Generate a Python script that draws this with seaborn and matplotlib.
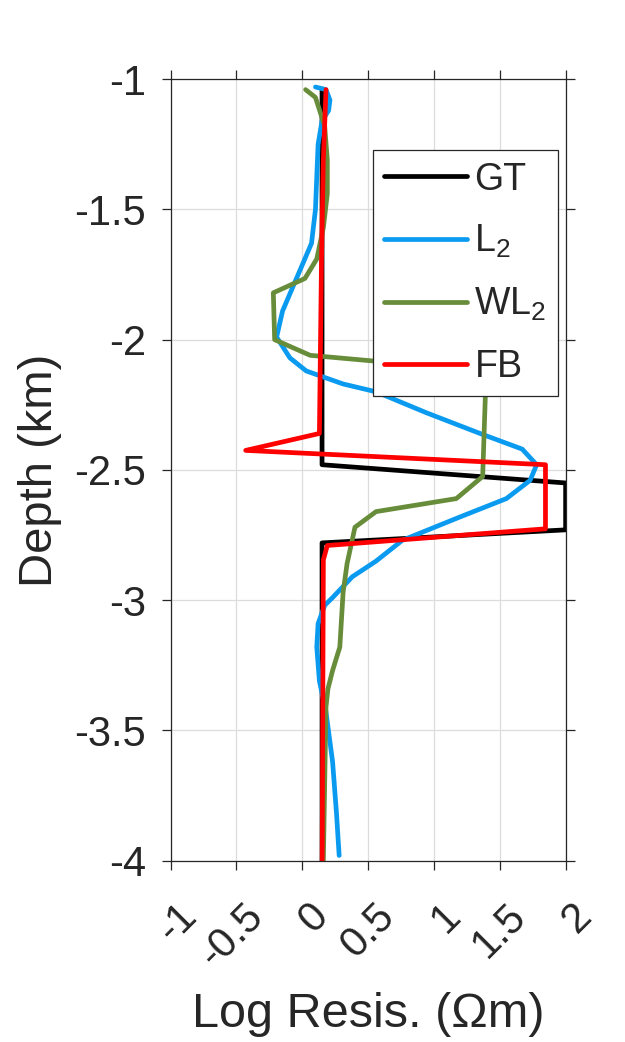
import numpy as np
import matplotlib
matplotlib.use("Agg")
import matplotlib.pyplot as plt
import matplotlib.transforms as mtransforms
import seaborn as sns

# resistivity profiles (log10 ohm-m) vs depth (km)
gt_depth = [-1.04, -2.48, -2.55, -2.73, -2.78, -4.0]
gt_val = [0.15, 0.15, 2.0, 2.0, 0.15, 0.15]

l2_depth = [-1.03, -1.04, -1.08, -1.12, -1.16, -1.25, -1.50, -1.63, -1.76, -1.89,
            -1.99, -2.07, -2.12, -2.17, -2.20, -2.28, -2.36, -2.42, -2.48, -2.54,
            -2.61, -2.68, -2.77, -2.85, -2.91, -2.99, -3.02, -3.09, -3.18, -3.31,
            -3.43, -3.62, -3.82, -3.98]
l2_val = [0.10, 0.18, 0.21, 0.20, 0.15, 0.12, 0.10, 0.07, -0.04, -0.15,
          -0.195, -0.094, 0.03, 0.31, 0.56, 0.94, 1.35, 1.67, 1.78, 1.73,
          1.55, 1.20, 0.76, 0.56, 0.38, 0.23, 0.17, 0.12, 0.11, 0.13,
          0.18, 0.23, 0.26, 0.28]

wl2_depth = [-1.04, -1.07, -1.18, -1.31, -1.44, -1.57, -1.69, -1.765, -1.82, -2.0,
             -2.06, -2.12, -2.22, -2.525, -2.61, -2.66, -2.72, -2.86, -2.97, -3.18,
             -3.27, -3.34, -3.41, -4.0]
wl2_val = [0.025, 0.10, 0.17, 0.19, 0.19, 0.16, 0.11, 0.02, -0.22, -0.21,
           0.06, 1.38, 1.39, 1.37, 1.17, 0.56, 0.40, 0.34, 0.31, 0.285,
           0.23, 0.195, 0.18, 0.16]

fb_depth = [-1.04, -1.31, -1.69, -2.36, -2.425, -2.48, -2.726, -2.79, -2.845, -4.0]
fb_val = [0.18, 0.16, 0.146, 0.13, -0.43, 1.847, 1.847, 0.19, 0.16, 0.151]

x_ticks = [-1, -0.5, 0, 0.5, 1, 1.5, 2]
x_labels = ["-1", "-0.5", "0", "0.5", "1", "1.5", "2"]
y_ticks = [-1, -1.5, -2, -2.5, -3, -3.5, -4]
y_labels = ["-1", "-1.5", "-2", "-2.5", "-3", "-3.5", "-4"]

sns.set_style("ticks")
plt.rcParams['font.family'] = ['Liberation Sans', 'DejaVu Sans']
plt.rcParams['axes.unicode_minus'] = False

fig = plt.figure(figsize=(6.25, 10.42), dpi=100)
ax = fig.add_axes([0.273, 0.174, 0.632, 0.750])

lw = 3.4
sns.lineplot(x=gt_val, y=gt_depth, sort=False, estimator=None, color='black', lw=lw, label='GT', ax=ax)
sns.lineplot(x=l2_val, y=l2_depth, sort=False, estimator=None, color='#0a9bf0', lw=lw, label=r'L$_{\mathregular{2}}$', ax=ax)
sns.lineplot(x=wl2_val, y=wl2_depth, sort=False, estimator=None, color='#678c3a', lw=lw, label=r'WL$_{\mathregular{2}}$', ax=ax)
sns.lineplot(x=fb_val, y=fb_depth, sort=False, estimator=None, color='#ff0000', lw=lw, label='FB', ax=ax)

ax.set_xlim(-1, 2)
ax.set_ylim(-4, -1)
ax.set_xticks(x_ticks, labels=x_labels)
ax.set_yticks(y_ticks, labels=y_labels)
ax.grid(True, color='#dcdcdc', lw=0.9)
ax.set_axisbelow(True)

for s in ax.spines.values():
    s.set_color('#262626')
    s.set_linewidth(0.9)
ax.tick_params(direction='out', length=6.5, width=0.9, color='#262626',
               labelsize=30, labelcolor='#262626', top=True, right=True)
ax.tick_params(axis='y', pad=11)
ax.tick_params(axis='x', pad=19)
shift = mtransforms.ScaledTranslation(6 / 100, 0, fig.dpi_scale_trans)
for lab in ax.get_xticklabels():
    lab.set_rotation(45)
    lab.set_ha('right')
    lab.set_va('top')
    lab.set_rotation_mode('anchor')
    lab.set_transform(lab.get_transform() + shift)

ax.set_xlabel('Log Resis. (\u03a9m)', fontsize=35, color='#262626', labelpad=12)
ax.set_ylabel('Depth (km)', fontsize=34, color='#262626', labelpad=9)

leg = ax.legend(loc='upper right', bbox_to_anchor=(0.98, 0.909), fontsize=27,
                frameon=True, fancybox=False, framealpha=1, edgecolor='#262626',
                handlelength=2.2, handletextpad=0.2, borderaxespad=0,
                labelspacing=0.68, borderpad=0.3)
leg.get_frame().set_linewidth(0.9)

fig.savefig('out.png', dpi=100)
